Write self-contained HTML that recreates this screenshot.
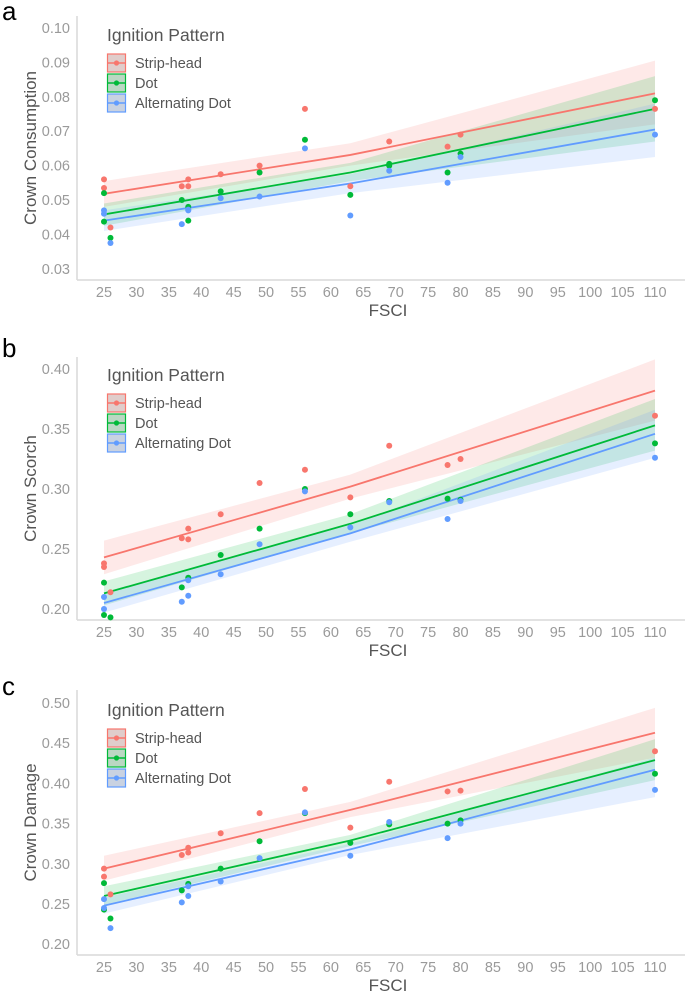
<!DOCTYPE html>
<html><head><meta charset="utf-8">
<style>
html,body{margin:0;padding:0;background:#fff;}
svg{display:block;font-family:"Liberation Sans",sans-serif;}
</style></head>
<body>
<svg id="fig" width="685" height="996" viewBox="0 0 685 996"></svg>
<script>
// ---------- data ----------
const xTicks = [25,30,35,40,45,50,55,60,65,70,75,80,85,90,95,100,105,110];
const seriesNames = ["Strip-head","Dot","Alternating Dot"];
const colors = ["#F8766D","#00BA38","#619CFF"];

// Panel a: Crown Consumption
const aTicks = [0.03,0.04,0.05,0.06,0.07,0.08,0.09,0.10];
const aStripX = [25,25,26,37,38,38,43,49,56,63,69,78,80,110];
const aStripY = [0.056,0.0535,0.042,0.054,0.056,0.054,0.0575,0.060,0.0765,0.054,0.067,0.0655,0.069,0.0765];
const aDotX = [25,25,26,37,38,38,43,49,56,63,69,69,78,80,110];
const aDotY = [0.052,0.0437,0.039,0.050,0.048,0.044,0.0525,0.058,0.0675,0.0515,0.0605,0.060,0.058,0.0635,0.079];
const aAltX = [25,25,26,37,38,38,43,49,56,63,69,78,80,110];
const aAltY = [0.047,0.046,0.0375,0.043,0.047,0.0472,0.0505,0.051,0.065,0.0455,0.0585,0.055,0.0625,0.069];
const fitX = [25,63,110];
const aStripFit = [0.0518,0.0631,0.081], aStripLo = [0.048,0.060,0.072], aStripHi = [0.0555,0.0665,0.0905];
const aDotFit = [0.0458,0.058,0.0765], aDotLo = [0.0425,0.0555,0.067], aDotHi = [0.049,0.0608,0.086];
const aAltFit = [0.044,0.0548,0.0705], aAltLo = [0.041,0.052,0.0625], aAltHi = [0.047,0.0575,0.078];

// Panel b: Crown Scorch
const bTicks = [0.20,0.25,0.30,0.35,0.40];
const bStripX = [25,25,26,37,38,38,43,49,56,63,69,78,80,110];
const bStripY = [0.238,0.235,0.214,0.259,0.267,0.258,0.279,0.305,0.316,0.293,0.336,0.320,0.325,0.361];
const bDotX = [25,25,26,37,38,43,49,56,63,69,78,80,110];
const bDotY = [0.222,0.195,0.193,0.218,0.226,0.245,0.267,0.300,0.279,0.290,0.292,0.291,0.338];
const bAltX = [25,25,37,38,38,43,49,56,63,69,78,80,110];
const bAltY = [0.210,0.200,0.206,0.224,0.211,0.229,0.254,0.298,0.268,0.289,0.275,0.290,0.326];
const bStripFit = [0.243,0.302,0.382], bStripLo = [0.229,0.292,0.357], bStripHi = [0.257,0.312,0.408];
const bDotFit = [0.213,0.271,0.353], bDotLo = [0.203,0.263,0.332], bDotHi = [0.223,0.279,0.375];
const bAltFit = [0.205,0.263,0.346], bAltLo = [0.197,0.256,0.326], bAltHi = [0.213,0.270,0.366];

// Panel c: Crown Damage
const cTicks = [0.20,0.25,0.30,0.35,0.40,0.45,0.50];
const cStripX = [25,25,26,37,38,38,43,49,56,63,69,78,80,110];
const cStripY = [0.294,0.284,0.262,0.311,0.320,0.314,0.338,0.363,0.393,0.345,0.402,0.390,0.391,0.440];
const cDotX = [25,25,26,37,38,43,49,56,63,69,78,80,110];
const cDotY = [0.276,0.243,0.232,0.267,0.275,0.294,0.328,0.363,0.326,0.349,0.350,0.354,0.412];
const cAltX = [25,25,26,37,38,38,43,49,56,63,69,78,80,110];
const cAltY = [0.256,0.245,0.220,0.252,0.272,0.260,0.278,0.307,0.364,0.310,0.352,0.332,0.350,0.392];
const cStripFit = [0.294,0.367,0.463], cStripLo = [0.279,0.358,0.432], cStripHi = [0.310,0.377,0.494];
const cDotFit = [0.260,0.329,0.429], cDotLo = [0.249,0.322,0.404], cDotHi = [0.272,0.336,0.455];
const cAltFit = [0.248,0.318,0.417], cAltLo = [0.238,0.311,0.383], cAltHi = [0.258,0.325,0.432];

// ---------- drawing ----------
const svg = document.getElementById('fig');
const NS = 'http://www.w3.org/2000/svg';
function mk(tag, attrs, parent){ const e=document.createElementNS(NS,tag); for(const k in attrs) e.setAttribute(k,attrs[k]); (parent||svg).appendChild(e); return e; }
const xPix = v => 104 + (v-25)*(655-104)/85;

function panel(cfg){
  const g = mk('g',{});
  
  
  const y = v => cfg.y0 + (cfg.v0 - v)*cfg.scale;
  const lt = mk('text',{x:2,y:cfg.letterY,'font-size':26,fill:'#000'},g); lt.textContent=cfg.letter;
  
  
  // axes
  const ax = mk('line',{x1:77,y1:cfg.top,x2:77,y2:cfg.axisY,stroke:'#d9d9d9','stroke-width':1.5},g);
  
  
  const axx = mk('line',{x1:77,y1:cfg.axisY,x2:685,y2:cfg.axisY,stroke:'#d9d9d9','stroke-width':1.5},g);
  
  
  cfg.ticks.forEach(t=>{
    const tx = mk('text',{x:70,y:y(t)+5,'font-size':14.5,fill:'#9a9a9a','text-anchor':'end'},g);
    tx.textContent = t.toFixed(cfg.dec);
    
    
  });
  xTicks.forEach(t=>{
    const tx = mk('text',{x:xPix(t),y:cfg.axisY+17,'font-size':14.5,fill:'#9a9a9a','text-anchor':'middle'},g);
    tx.textContent = t;
    
    
  });
  const xt = mk('text',{x:388,y:cfg.axisY+36,'font-size':17,fill:'#555','text-anchor':'middle'},g); xt.textContent='FSCI';
  
  
  const cy = (cfg.top+cfg.axisY)/2;
  const yt = mk('text',{x:0,y:0,'font-size':17,fill:'#555','text-anchor':'middle',transform:`translate(36,${cy}) rotate(-90)`},g); yt.textContent=cfg.title;
  
  
  // ribbons
  cfg.series.forEach((s,i)=>{
    const up = fitX.map((x,j)=>`${xPix(x)},${y(s.hi[j])}`);
    const lo = fitX.map((x,j)=>`${xPix(x)},${y(s.lo[j])}`).reverse();
    const r = mk('polygon',{points:up.concat(lo).join(' '),fill:colors[i],'fill-opacity':0.16},g);
    
    
  });
  cfg.series.forEach((s,i)=>{
    const l = mk('polyline',{points:fitX.map((x,j)=>`${xPix(x)},${y(s.fit[j])}`).join(' '),fill:'none',stroke:colors[i],'stroke-width':1.8},g);
    
    
  });
  cfg.series.forEach((s,i)=>{
    s.x.forEach((xv,j)=>{
      const c = mk('circle',{cx:xPix(xv),cy:y(s.y[j]),r:3,fill:colors[i]},g);
      
      
    });
  });
  // legend
  const lg = mk('g',{},g);
  
  
  const L = cfg.legTop;
  const ttl = mk('text',{x:107,y:L,'font-size':17.5,fill:'#555'},lg); ttl.textContent='Ignition Pattern';
  
  
  seriesNames.forEach((n,i)=>{
    const by = L+13+i*20;
    const e = mk('g',{},lg);
    
    
    mk('rect',{x:107.5,y:by,width:18,height:18,fill:'#dcdcdc',stroke:colors[i],'stroke-width':1.2},e);
    mk('rect',{x:107.5,y:by,width:18,height:18,fill:colors[i],'fill-opacity':0.15},e);
    mk('line',{x1:108,y1:by+9,x2:125,y2:by+9,stroke:colors[i],'stroke-width':1.6},e);
    mk('circle',{cx:116.5,cy:by+9,r:2.6,fill:colors[i]},e);
    const t = mk('text',{x:135,y:by+14,'font-size':14.5,fill:'#555'},e); t.textContent=n;
  });
}

panel({letter:'a',letterY:20,top:16,axisY:280,y0:28,v0:0.10,scale:3440,ticks:aTicks,dec:2,title:'Crown Consumption',legTop:41,
  series:[{x:aStripX,y:aStripY,fit:aStripFit,lo:aStripLo,hi:aStripHi},{x:aDotX,y:aDotY,fit:aDotFit,lo:aDotLo,hi:aDotHi},{x:aAltX,y:aAltY,fit:aAltFit,lo:aAltLo,hi:aAltHi}]});
panel({letter:'b',letterY:357,top:357,axisY:620,y0:369,v0:0.40,scale:1200,ticks:bTicks,dec:2,title:'Crown Scorch',legTop:381,
  series:[{x:bStripX,y:bStripY,fit:bStripFit,lo:bStripLo,hi:bStripHi},{x:bDotX,y:bDotY,fit:bDotFit,lo:bDotLo,hi:bDotHi},{x:bAltX,y:bAltY,fit:bAltFit,lo:bAltLo,hi:bAltHi}]});
panel({letter:'c',letterY:695,top:690,axisY:955,y0:703,v0:0.50,scale:804,ticks:cTicks,dec:2,title:'Crown Damage',legTop:716,
  series:[{x:cStripX,y:cStripY,fit:cStripFit,lo:cStripLo,hi:cStripHi},{x:cDotX,y:cDotY,fit:cDotFit,lo:cDotLo,hi:cDotHi},{x:cAltX,y:cAltY,fit:cAltFit,lo:cAltLo,hi:cAltHi}]});
</script>
</body></html>
